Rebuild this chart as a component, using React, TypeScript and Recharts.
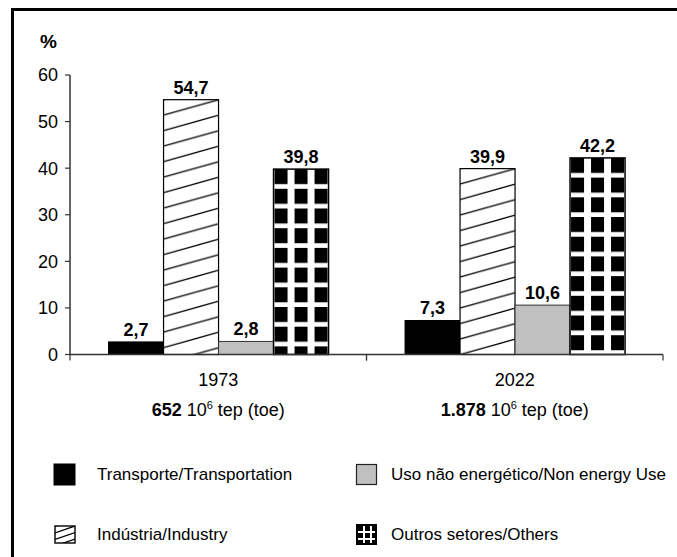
import React from 'react';
import { BarChart, Bar, XAxis, YAxis, LabelList } from 'recharts';

const years = ['1973', '2022'];
const totals = ['652', '1.878'];
const transport = [2.7, 7.3];
const industry = [54.7, 39.9];
const nonEnergy = [2.8, 10.6];
const others = [39.8, 42.2];
const yTicks = [0, 10, 20, 30, 40, 50, 60];
const seriesKeys = ['transport', 'industry', 'nonEnergy', 'others'];
const seriesNames = [
  'Transporte/Transportation',
  'Indústria/Industry',
  'Uso não energético/Non energy Use',
  'Outros setores/Others',
];

const data = years.map((year, i) => ({
  year,
  total: totals[i],
  transport: transport[i],
  industry: industry[i],
  nonEnergy: nonEnergy[i],
  others: others[i],
}));

const W = 677;
const H = 557;
const FONT = '"Liberation Sans", Arial, Helvetica, sans-serif';
const PLOT_LEFT = 70;
const PLOT_RIGHT = 663;
const PLOT_TOP = 75;
const PLOT_BOTTOM = 354.5;
const X_AXIS_H = 70;

const fmt = (v: any) => Number(v).toFixed(1).replace('.', ',');

const HatchBar = (props: any) => {
  const { x, y, width, height, index } = props;
  const id = `hatch-bar-${index}`;
  const h = 15.5;
  return (
    <g>
      <defs>
        <pattern id={id} patternUnits="userSpaceOnUse" x={x} y={y} width={width} height={h}>
          <rect width={width} height={h} fill="#fff" />
          {[-1, 0, 1].map((k) => (
            <line key={k} x1={0} y1={h + k * h} x2={width} y2={k * h} stroke="#000" strokeWidth={1.2} />
          ))}
        </pattern>
      </defs>
      <rect x={x} y={y} width={width} height={height} fill={`url(#${id})`} stroke="#000" strokeWidth={1.2} />
    </g>
  );
};

const GridBar = (props: any) => {
  const { x, y, width, height, index } = props;
  const id = `grid-bar-${index}`;
  return (
    <g>
      <defs>
        <pattern id={id} patternUnits="userSpaceOnUse" x={x + 1} y={y} width={20} height={19.7}>
          <rect width={20} height={19.7} fill="#fff" />
          <rect width={13} height={15} fill="#000" />
        </pattern>
      </defs>
      <rect x={x} y={y} width={width} height={height} fill={`url(#${id})`} stroke="#000" strokeWidth={1.5} />
    </g>
  );
};

const PlainBar = (fill: string, stroke: string) => (props: any) => {
  const { x, y, width, height } = props;
  return <rect x={x} y={y} width={width} height={height} fill={fill} stroke={stroke} strokeWidth={1} />;
};

const CatTick = (props: any) => {
  const { x, y, payload, index } = props;
  const band = (PLOT_RIGHT - PLOT_LEFT) / years.length;
  const total = data[index] ? data[index].total : '';
  return (
    <g>
      <line x1={x - band / 2} y1={y} x2={x - band / 2} y2={y + 6} stroke="#333" strokeWidth={1.2} />
      <line x1={x + band / 2} y1={y} x2={x + band / 2} y2={y + 6} stroke="#333" strokeWidth={1.2} />
      <text x={x} y={y + 31} textAnchor="middle" fontFamily={FONT} fontSize={18} fill="#000">
        {payload.value}
      </text>
      <text x={x} y={y + 61} textAnchor="middle" fontFamily={FONT} fontSize={18} fill="#000">
        <tspan fontWeight="bold">{total}</tspan>
        <tspan> 10</tspan>
        <tspan fontSize={11} dy={-7}>6</tspan>
        <tspan dy={7}> tep (toe)</tspan>
      </text>
    </g>
  );
};

const Swatch = ({ kind }: { kind: string }) => {
  if (kind === 'transport') {
    return (
      <svg width={24} height={24}>
        <rect x={1} y={1} width={21} height={21} fill="#000" stroke="#000" />
      </svg>
    );
  }
  if (kind === 'nonEnergy') {
    return (
      <svg width={24} height={24}>
        <rect x={1.5} y={1.5} width={20} height={20} fill="#c0c0c0" stroke="#222" strokeWidth={1.2} />
      </svg>
    );
  }
  if (kind === 'industry') {
    return (
      <svg width={24} height={24}>
        <defs>
          <clipPath id="lg-hatch-clip">
            <rect x={2} y={3} width={20} height={17} />
          </clipPath>
        </defs>
        <rect x={2} y={3} width={20} height={17} fill="#fff" />
        <g clipPath="url(#lg-hatch-clip)">
          {[-1, 0, 1, 2].map((k) => (
            <line key={k} x1={2} y1={3 + 7 + k * 6.5} x2={22} y2={3 + k * 6.5} stroke="#000" strokeWidth={1.3} />
          ))}
        </g>
        <rect x={2} y={3} width={20} height={17} fill="none" stroke="#000" strokeWidth={1.4} />
      </svg>
    );
  }
  return (
    <svg width={24} height={24}>
      <defs>
        <pattern id="lg-grid" patternUnits="userSpaceOnUse" x={3} y={3} width={7} height={7}>
          <rect width={7} height={7} fill="#fff" />
          <rect width={5} height={5} fill="#000" />
        </pattern>
      </defs>
      <rect x={2} y={2} width={19} height={19} fill="url(#lg-grid)" stroke="#000" strokeWidth={2} />
    </svg>
  );
};

const legendPos = [
  { left: 53, top: 463 },
  { left: 53, top: 523 },
  { left: 355, top: 463 },
  { left: 355, top: 523 },
];

export default function App() {
  return (
    <div
      style={{
        position: 'absolute',
        left: 0,
        top: 0,
        width: W,
        height: H,
        overflow: 'hidden',
        background: '#fff',
        fontFamily: FONT,
      }}
    >
      <div
        style={{
          position: 'absolute',
          left: 11,
          top: 8,
          width: W + 40,
          height: H + 40,
          border: '3px solid #000',
          boxSizing: 'border-box',
        }}
      />
      <BarChart
        width={W}
        height={H}
        data={data}
        margin={{ top: PLOT_TOP, right: W - PLOT_RIGHT, bottom: H - PLOT_BOTTOM - X_AXIS_H, left: 10 }}
        barCategoryGap="13%"
        barGap={0}
        style={{ position: 'absolute', left: 0, top: 0 }}
      >
        <XAxis
          dataKey="year"
          height={X_AXIS_H}
          tick={<CatTick />}
          tickLine={false}
          tickSize={0}
          tickMargin={0}
          axisLine={{ stroke: '#333', strokeWidth: 1.5 }}
          interval={0}
        />
        <YAxis
          width={PLOT_LEFT - 10}
          domain={[0, 60]}
          ticks={yTicks}
          interval={0}
          tickSize={5}
          tickMargin={7}
          axisLine={{ stroke: '#333', strokeWidth: 1.5 }}
          tickLine={{ stroke: '#333', strokeWidth: 1.2 }}
          tick={{ fontFamily: FONT, fontSize: 18, fill: '#000' }}
        />
        <Bar dataKey="transport" name={seriesNames[0]} isAnimationActive={false} shape={PlainBar('#000', '#000')}>
          <LabelList dataKey="transport" position="top" offset={6} formatter={fmt} style={{ fontFamily: FONT, fontSize: 18, fontWeight: 'bold', fill: '#000' }} />
        </Bar>
        <Bar dataKey="industry" name={seriesNames[1]} isAnimationActive={false} shape={<HatchBar />}>
          <LabelList dataKey="industry" position="top" offset={6} formatter={fmt} style={{ fontFamily: FONT, fontSize: 18, fontWeight: 'bold', fill: '#000' }} />
        </Bar>
        <Bar dataKey="nonEnergy" name={seriesNames[2]} isAnimationActive={false} shape={PlainBar('#c0c0c0', '#333')}>
          <LabelList dataKey="nonEnergy" position="top" offset={6} formatter={fmt} style={{ fontFamily: FONT, fontSize: 18, fontWeight: 'bold', fill: '#000' }} />
        </Bar>
        <Bar dataKey="others" name={seriesNames[3]} isAnimationActive={false} shape={<GridBar />}>
          <LabelList dataKey="others" position="top" offset={6} formatter={fmt} style={{ fontFamily: FONT, fontSize: 18, fontWeight: 'bold', fill: '#000' }} />
        </Bar>
      </BarChart>
      <div style={{ position: 'absolute', left: 40, top: 32, fontSize: 19, fontWeight: 'bold', lineHeight: '20px' }}>%</div>
      {seriesKeys.map((k, i) => (
        <div
          key={k}
          style={{ position: 'absolute', left: legendPos[i].left, top: legendPos[i].top, display: 'flex', alignItems: 'center', height: 24 }}
        >
          <Swatch kind={k} />
          <span style={{ marginLeft: i < 2 ? 20 : 12, fontSize: 17, color: '#000', whiteSpace: 'nowrap' }}>{seriesNames[i]}</span>
        </div>
      ))}
    </div>
  );
}
